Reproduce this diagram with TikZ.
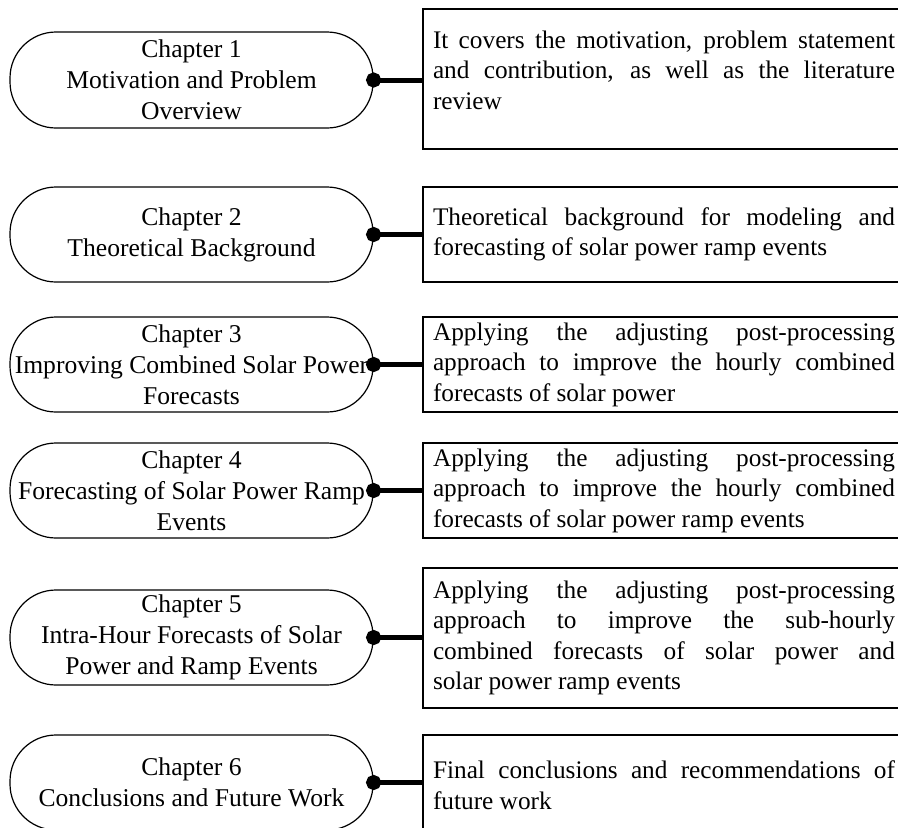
\documentclass[tikz,border=0pt]{standalone}
\usepackage{fontspec}
\setmainfont{Liberation Serif}
\usetikzlibrary{arrows.meta}
\begin{document}
\begin{tikzpicture}[x=1pt,y=-1pt,
  capsule/.style={draw, line width=1.2pt, rounded corners=46pt, minimum width=363pt, minimum height=95pt, inner sep=0pt, align=center, font=\fontsize{25.6}{31}\selectfont},
  descbox/.style={draw, line width=1.2pt, text width=462pt, inner xsep=10pt, inner ysep=0pt, align=justify, font=\fontsize{25.3}{30.5}\selectfont},
  link/.style={line width=5pt, {Circle[length=15pt,width=15pt]}-, shorten <=-7.5pt}
]
\useasboundingbox (0,0) rectangle (898,828);
\clip (0,0) rectangle (898,828);
\fill[white] (0,0) rectangle (898,828);

\node[capsule, minimum height=96pt] (c1) at (191.5,80) {Chapter 1\\Motivation and Problem\\Overview};
\node[capsule] (c2) at (191.5,234.5) {Chapter 2\\Theoretical Background};
\node[capsule] (c3) at (191.5,364.5) {Chapter 3\\Improving Combined Solar Power\\Forecasts};
\node[capsule] (c4) at (191.5,490.5) {Chapter 4\\Forecasting of Solar Power Ramp\\Events};
\node[capsule] (c5) at (191.5,637.5) {Chapter 5\\Intra-Hour Forecasts of Solar\\Power and Ramp Events};
\node[capsule] (c6) at (191.5,782.5) {Chapter 6\\Conclusions and Future Work};

\node[descbox, minimum height=140pt] (b1) at (664,79) {It covers the motivation, problem statement\linebreak and contribution, as well as the literature\linebreak review\par\vspace{18pt}\hrule height 0pt width 0pt};
\node[descbox, minimum height=95pt] (b2) at (664,234.5) {Theoretical background for modeling and\linebreak forecasting of solar power ramp events};
\node[descbox, minimum height=95pt] (b3) at (664,364.5) {Applying the adjusting post-processing\linebreak approach to improve the hourly combined\linebreak forecasts of solar power};
\node[descbox, minimum height=95pt] (b4) at (664,490.5) {Applying the adjusting post-processing\linebreak approach to improve the hourly combined\linebreak forecasts of solar power ramp events};
\node[descbox, minimum height=140pt] (b5) at (664,638) {Applying the adjusting post-processing\linebreak approach to improve the sub-hourly\linebreak combined forecasts of solar power and\linebreak solar power ramp events};
\node[descbox, minimum height=100pt] (b6) at (664,785) {Final conclusions and recommendations of\linebreak future work};

\foreach \i in {1,...,6}{
  \draw[link] (c\i.east) -- (c\i.east -| b\i.west);
}
\end{tikzpicture}
\end{document}
